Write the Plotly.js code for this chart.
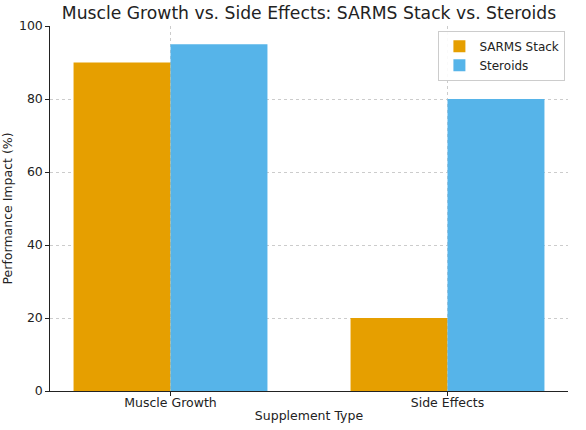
<!DOCTYPE html>
<html><head><meta charset="utf-8">
<script src="https://cdn.plot.ly/plotly-3.0.1.min.js"></script>
<style>html,body{margin:0;padding:0;background:#fff}#c{width:586px;height:430px}</style>
</head><body><div id="c"></div>
<script>
const categories = ["Muscle Growth", "Side Effects"];
const sarms = [90, 20];
const steroids = [95, 80];
const seriesNames = ["SARMS Stack", "Steroids"];
const yTicks = [0, 20, 40, 60, 80, 100];

const x = categories.map((_, i) => i);
const data = [
  {type: "bar", x: x, y: sarms, name: seriesNames[0], marker: {color: "#E69F00"}, hoverinfo: "none"},
  {type: "bar", x: x, y: steroids, name: seriesNames[1], marker: {color: "#56B4E9"}, hoverinfo: "none"}
];
const font = "DejaVu Sans, sans-serif";
const layout = {
  width: 586, height: 430,
  margin: {l: 50, r: 18, t: 26, b: 39},
  paper_bgcolor: "#fff", plot_bgcolor: "#fff",
  font: {family: font, color: "#222", size: 12.5},
  title: {text: "Muscle Growth vs. Side Effects: SARMS Stack vs. Steroids", font: {size: 17.2, family: font, color: "#222"}, xref: "paper", x: 0.5, xanchor: "center", y: 0.983, yanchor: "top"},
  barmode: "group", bargap: 0.3, bargroupgap: 0,
  showlegend: true,
  legend: {x: 0.995, y: 0.987, xanchor: "right", yanchor: "top", bgcolor: "rgba(255,255,255,0.9)", bordercolor: "#ccc", borderwidth: 1, font: {size: 12, family: font, color: "#222"}, itemwidth: 30, tracegroupgap: 0},
  xaxis: {
    range: [-0.435, 1.435], tickvals: x, ticktext: categories,
    showgrid: true, gridcolor: "#ccc", griddash: "dot", gridwidth: 1,
    showline: true, linecolor: "#222", linewidth: 1.2,
    ticks: "outside", ticklen: 3.5, tickcolor: "#222",
    tickfont: {size: 12.5}, zeroline: false, ticklabelstandoff: -4,
    title: {text: "Supplement Type", font: {size: 12.5}, standoff: 2}
  },
  yaxis: {
    range: [0, 100], tickvals: yTicks,
    showgrid: true, gridcolor: "#ccc", griddash: "dot", gridwidth: 1,
    showline: true, linecolor: "#222", linewidth: 1.2,
    ticks: "outside", ticklen: 3.5, tickcolor: "#222",
    tickfont: {size: 12.5}, zeroline: false,
    title: {text: "Performance Impact (%)", font: {size: 12.5}, standoff: 7}
  }
};
Plotly.newPlot("c", data, layout, {staticPlot: true});
</script></body></html>
